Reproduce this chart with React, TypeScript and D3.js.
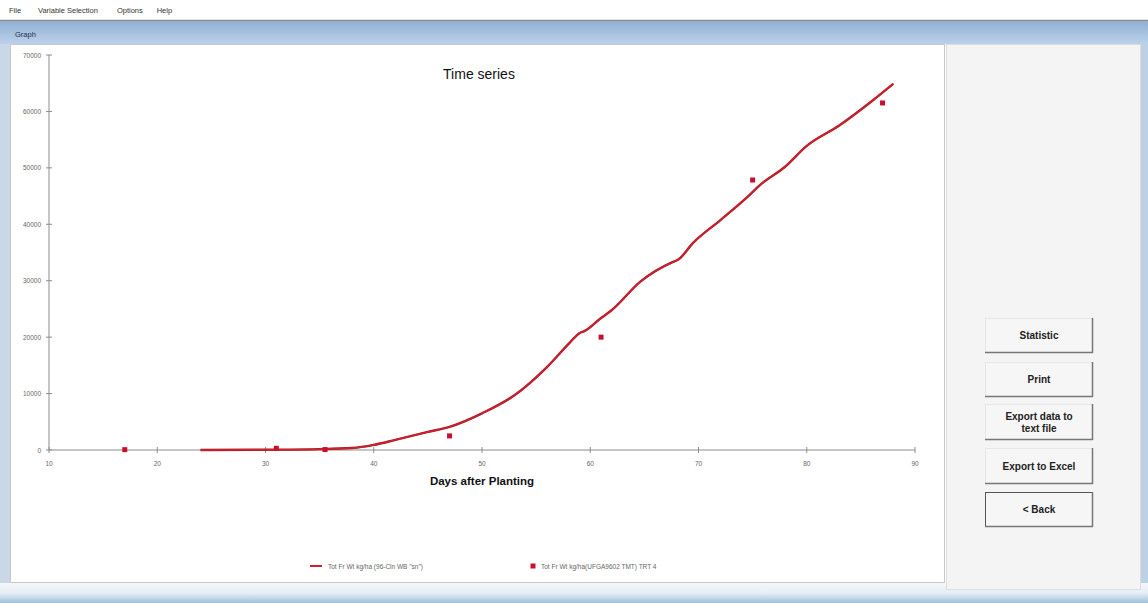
import React from 'react';
import * as d3 from 'd3';

// simulated total fruit weight (kg/ha) by day after planting
const simDays = [24, 30, 35, 38, 40, 42, 45, 47, 50, 53, 56, 58, 59, 59.5, 61, 62, 64.6, 67.6, 68.1, 69.5, 72, 74.5, 75.7, 78, 80, 83, 86, 88];
const simWeight = [0, 50, 150, 350, 900, 1800, 3200, 4100, 6500, 9700, 14700, 18800, 20700, 21100, 23400, 24800, 29800, 33300, 33700, 36700, 40700, 44800, 47000, 50200, 53900, 57500, 61800, 64900];

// observed
const obsDays = [17, 31, 35.5, 47, 61, 75, 87];
const obsWeight = [60, 300, 80, 2500, 20000, 47850, 61500];

const xTicks = [10, 20, 30, 40, 50, 60, 70, 80, 90];
const yTicks = [0, 10000, 20000, 30000, 40000, 50000, 60000, 70000];

const menuItems = ['File', 'Variable Selection', 'Options', 'Help'];
const buttons = [
  { lines: ['Statistic'], y: 318, h: 34 },
  { lines: ['Print'], y: 362, h: 34 },
  { lines: ['Export data to', 'text file'], y: 404, h: 35 },
  { lines: ['Export to Excel'], y: 448, h: 35 },
  { lines: ['< Back'], y: 492, h: 34, focus: true },
];

const legendLine = 'Tot Fr Wt kg/ha (96-Cln WB "sn")';
const legendDots = 'Tot Fr Wt kg/ha(UFGA9602 TMT) TRT 4';

const RED = '#d41f2d';
const font = 'Arial, "Liberation Sans", sans-serif';

export default function App() {
  const x = d3.scaleLinear().domain([10, 90]).range([49, 915]);
  const y = d3.scaleLinear().domain([0, 70000]).range([450, 55]);

  const sim = simDays.map((d, i) => [d, simWeight[i]] as [number, number]);
  const line = d3.line<[number, number]>()
    .x(d => x(d[0]))
    .y(d => y(d[1]))
    .curve(d3.curveMonotoneX);

  // menu x positions
  let mx = 9;
  const menuPos = menuItems.map(m => {
    const p = mx;
    mx += m.length * 3.57 + 14.7;
    return p;
  });

  return (
    <svg width={1148} height={603} style={{ position: 'fixed', left: 0, top: 0 }} fontFamily={font}>
      <defs>
        <linearGradient id="bar" x1="0" y1="0" x2="0" y2="1">
          <stop offset="0" stopColor="#8fb0d4" />
          <stop offset="1" stopColor="#bcd1ea" />
        </linearGradient>
        <linearGradient id="bottom" x1="0" y1="0" x2="0" y2="1">
          <stop offset="0" stopColor="#f4f7fa" />
          <stop offset="0.5" stopColor="#e6eef6" />
          <stop offset="1" stopColor="#9fbfdc" />
        </linearGradient>
      </defs>
      <rect width={1148} height={603} fill="#ffffff" />

      {/* menu bar */}
      {menuItems.map((m, i) => (
        <text key={m} x={menuPos[i]} y={13} fontSize={7.5} fill="#333">
          {m}
        </text>
      ))}
      <line x1={0} x2={1148} y1={20.5} y2={20.5} stroke="#8a8a8a" strokeWidth={1.5} />

      {/* window frame */}
      <rect x={0} y={21} width={1148} height={23} fill="url(#bar)" />
      <text x={15} y={37} fontSize={7.5} fill="#1f2f45">Graph</text>
      <rect x={0} y={44} width={10} height={559} fill="#c9d7e6" />
      <rect x={1141} y={44} width={7} height={559} fill="#bcd0e6" />
      <rect x={0} y={583} width={1148} height={20} fill="url(#bottom)" />

      {/* plot panel */}
      <rect x={10.5} y={44.5} width={934} height={538} fill="#ffffff" stroke="#c8c8c8" />
      {/* right panel */}
      <rect x={946.5} y={44.5} width={194} height={545} fill="#f4f4f4" stroke="#dcdcdc" />

      {/* axes */}
      <line x1={x(10)} x2={x(10)} y1={y(70000)} y2={y(0)} stroke="#8c8c8c" />
      <line x1={x(10)} x2={x(90)} y1={y(0)} y2={y(0)} stroke="#8c8c8c" />
      {yTicks.map(t => (
        <g key={t}>
          <line x1={x(10) - 3} x2={x(10) + 3} y1={y(t)} y2={y(t)} stroke="#8c8c8c" />
          <text x={x(10) - 8} y={y(t) + 2.5} fontSize={6.5} textAnchor="end" fill="#666">{t}</text>
        </g>
      ))}
      {xTicks.map(t => (
        <g key={t}>
          <line x1={x(t)} x2={x(t)} y1={y(0) - 3} y2={y(0) + 3} stroke="#8c8c8c" />
          <text x={x(t)} y={y(0) + 16} fontSize={6.5} textAnchor="middle" fill="#666">{t}</text>
        </g>
      ))}

      <text x={479} y={79} fontSize={14} textAnchor="middle" fill="#111">Time series</text>
      <text x={482} y={485} fontSize={11.5} fontWeight="bold" textAnchor="middle" fill="#111">Days after Planting</text>

      {/* simulated line */}
      <path d={line(sim) ?? ''} fill="none" stroke="#9a1c28" strokeWidth={2.4} />
      <path d={line(sim) ?? ''} fill="none" stroke={RED} strokeWidth={1.5} />

      {/* observed points */}
      {obsDays.map((d, i) => (
        <rect key={d} x={x(d) - 2.5} y={y(obsWeight[i]) - 2.5} width={5} height={5} fill="#c8102e" />
      ))}

      {/* legend */}
      <line x1={310} x2={322} y1={566} y2={566} stroke={RED} strokeWidth={2} />
      <text x={328} y={568.5} fontSize={6.5} fill="#666">{legendLine}</text>
      <rect x={530.5} y={563.5} width={5} height={5} fill="#c8102e" />
      <text x={541} y={568.5} fontSize={6.5} fill="#666">{legendDots}</text>

      {/* buttons */}
      {buttons.map(b => (
        <g key={b.lines.join()}>
          <rect x={985.5} y={b.y + 0.5} width={107} height={b.h} fill="#f6f6f6"
            stroke={b.focus ? '#555' : '#e6e6e6'} />
          <line x1={1092.5} x2={1092.5} y1={b.y} y2={b.y + b.h + 1} stroke="#777" strokeWidth={1.5} />
          <line x1={985} x2={1093} y1={b.y + b.h + 0.5} y2={b.y + b.h + 0.5} stroke="#777" strokeWidth={1.5} />
          {b.lines.map((l, j) => (
            <text key={l} x={1039} y={b.y + b.h / 2 + 4 + (j - (b.lines.length - 1) / 2) * 12}
              fontSize={10} fontWeight="bold" textAnchor="middle" fill="#222">{l}</text>
          ))}
        </g>
      ))}
    </svg>
  );
}
